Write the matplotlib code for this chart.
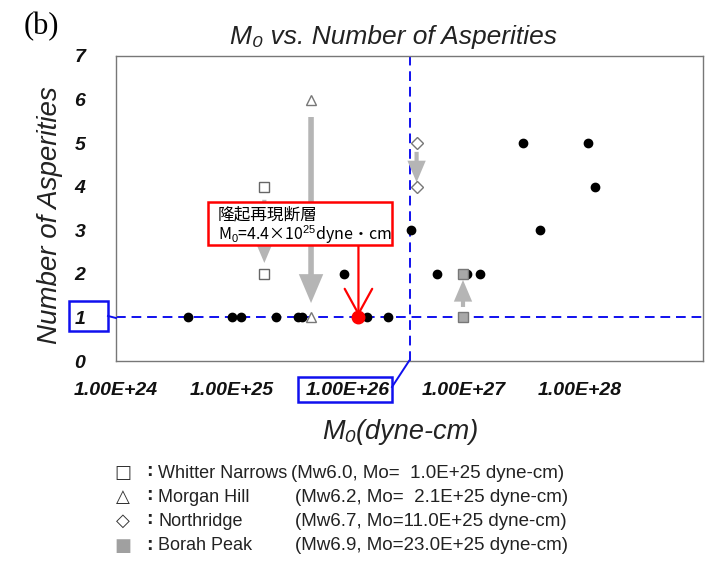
import matplotlib
matplotlib.use('Agg')
import matplotlib.pyplot as plt
from matplotlib.patches import Rectangle
from matplotlib.lines import Line2D

plt.rcParams['font.family'] = ['Liberation Sans', 'DejaVu Sans']
plt.rcParams['mathtext.fontset'] = 'custom'
plt.rcParams['mathtext.rm'] = 'Liberation Sans'

# データ
dots_x = [4.2e24, 1.0e25, 1.2e25, 2.4e25, 3.7e25, 4.0e25, 1.45e26, 2.2e26,
          9.3e25, 3.5e26, 5.9e26, 1.07e27, 1.38e27, 4.5e27, 3.2e27, 1.17e28, 1.35e28]
dots_y = [1, 1, 1, 1, 1, 1, 1, 1,
          2, 3, 2, 2, 2, 3, 5, 5, 4]
red_x, red_y = 1.23e26, 1
whittier_x, whittier_y = [1.9e25, 1.9e25], [4, 2]
morgan_x, morgan_y = [4.8e25, 4.8e25], [6, 1]
northridge_x, northridge_y = [3.9e26, 3.9e26], [5, 4]
borah_x, borah_y = [9.8e26, 9.8e26], [2, 1]
# 灰色の矢印 (x, 始点y, 終点y)
grey_arrows = [(1.9e25, 3.7, 2.25), (4.8e25, 5.6, 1.33),
               (3.9e26, 4.8, 4.1), (9.8e26, 1.24, 1.86)]
vline_x = 3.4e26
hline_y = 1
xticks = [1e24, 1e25, 1e26, 1e27, 1e28]
xtick_labels = ['1.00E+24', '1.00E+25', '1.00E+26', '1.00E+27', '1.00E+28']
legend_sym = ['□', '△', '◇', '■']
legend_name = ['Whitter Narrows', 'Morgan Hill', 'Northridge', 'Borah Peak']
legend_info = ['(Mw6.0, Mo=  1.0E+25 dyne-cm)', '(Mw6.2, Mo=  2.1E+25 dyne-cm)',
               '(Mw6.7, Mo=11.0E+25 dyne-cm)', '(Mw6.9, Mo=23.0E+25 dyne-cm)']

W, H = 709, 572
fig = plt.figure(figsize=(W / 100, H / 100), dpi=100)
ax = fig.add_axes([116 / W, 1 - 361 / H, 587 / W, 305 / H])

def fx(px):
    return px / W

def fy(py):
    return 1 - py / H

ax.set_xscale('log')
ax.set_xlim(1e24, 10 ** 29.06)
ax.set_ylim(0, 7)

for s in ax.spines.values():
    s.set_color('#777777')
    s.set_linewidth(1.0)

# 灰色の矢印
for x, y0, y1 in grey_arrows:
    ax.annotate('', xy=(x, y1), xytext=(x, y0),
                arrowprops=dict(arrowstyle='simple,head_width=1.1,head_length=1.3,tail_width=0.25',
                                color='#b5b5b5', lw=0, shrinkA=0, shrinkB=0,
                                mutation_scale=16 if y0 - y1 > 2 else 12))

# 青い補助線
ax.axhline(hline_y, color='#1010ee', ls=(0, (5, 3)), lw=1.4, zorder=2)
ax.axvline(vline_x, color='#1010ee', ls=(0, (5, 3)), lw=1.4, zorder=2)

ax.plot(dots_x, dots_y, 'o', color='black', ms=6, zorder=4)
ax.plot(whittier_x, whittier_y, 's', mfc='white', mec='#666666', ms=7, mew=1.0, zorder=4)
ax.plot(morgan_x, morgan_y, '^', mfc='white', mec='#777777', ms=7, mew=1.0, zorder=4)
ax.plot(northridge_x, northridge_y, 'D', mfc='white', mec='#777777', ms=6, mew=1.0, zorder=4)
ax.plot(borah_x, borah_y, 's', mfc='#a8a8a8', mec='#777777', ms=7, mew=1.0, zorder=5)
ax.plot([red_x], [red_y], 'o', color='#ff0000', ms=9, zorder=6)

# 赤い注記
ax.annotate('', xy=(red_x, red_y + 0.03), xytext=(red_x, 2.66),
            arrowprops=dict(arrowstyle='->,head_length=1.0,head_width=0.55', color='#ff0000',
                            lw=1.6, shrinkA=0, shrinkB=0, mutation_scale=18), zorder=6)
fig.add_artist(Rectangle((fx(208), fy(245)), fx(392) - fx(208), fy(202) - fy(245),
                         fc='white', ec='#ff0000', lw=1.8, zorder=7))
fig.text(fx(218), fy(215), '隆起再現断層', family=['Noto Sans CJK JP', 'DejaVu Sans'],
         fontsize=12, va='center', ha='left', zorder=8)
fig.text(fx(218), fy(235), r'M$_0$=4.4×10$^{25}$dyne・cm',
         family=['Noto Sans CJK JP', 'DejaVu Sans'], fontsize=11.5,
         va='center', ha='left', zorder=8)

ax.set_xticks(xticks)
ax.set_xticklabels(xtick_labels)
ax.xaxis.set_minor_locator(matplotlib.ticker.NullLocator())
ax.set_yticks(range(8))
ax.tick_params(length=0, labelsize=14)
ax.tick_params(axis='x', pad=15)
ax.tick_params(axis='y', pad=22)
for lab in ax.get_xticklabels() + ax.get_yticklabels():
    lab.set_fontweight('bold')
    lab.set_fontstyle('italic')
    lab.set_color('#111111')

fig.text(fx(393), fy(37), 'M₀ vs. Number of Asperities',
         fontsize=19, style='italic', ha='center', va='center', color='#222222')
fig.text(fx(50), fy(215), 'Number of Asperities', fontsize=20, style='italic',
         rotation=90, ha='center', va='center', color='#222222')
fig.text(fx(400), fy(432), 'M₀(dyne-cm)', fontsize=19.5, style='italic',
         ha='center', va='center', color='#222222')
fig.text(fx(24), fy(27), '(b)', family='Liberation Serif', fontsize=22,
         ha='left', va='center')

# 青い枠
fig.add_artist(Rectangle((fx(69), fy(331)), fx(108) - fx(69), fy(301) - fy(331),
                         fill=False, ec='#1010ee', lw=1.8))
fig.add_artist(Line2D([fx(108), fx(116)], [fy(316), fy(318)], color='#1010ee', lw=1.4))
fig.add_artist(Rectangle((fx(298), fy(402)), fx(392) - fx(298), fy(377) - fy(402),
                         fill=False, ec='#1010ee', lw=1.8))
fig.add_artist(Line2D([fx(392), fx(409)], [fy(387), fy(361)], color='#1010ee', lw=1.4))

# 凡例
rows_y = [473, 497, 521, 546]
for i in range(4):
    col = '#a0a0a0' if i == 3 else '#333333'
    fig.text(fx(123), fy(rows_y[i]), legend_sym[i], family=['DejaVu Sans'], fontsize=13,
             color=col, ha='center', va='center')
    fig.text(fx(149), fy(rows_y[i] - 1), ':', fontsize=14, fontweight='bold',
             ha='center', va='center', color='#222222')
    fig.text(fx(158), fy(rows_y[i]), legend_name[i], fontsize=13, ha='left', va='center',
             color='#222222')
    fig.text(fx(291 if i == 0 else 295), fy(rows_y[i]), legend_info[i], fontsize=13.5,
             ha='left', va='center', color='#222222')

fig.savefig('out.png', dpi=100)
